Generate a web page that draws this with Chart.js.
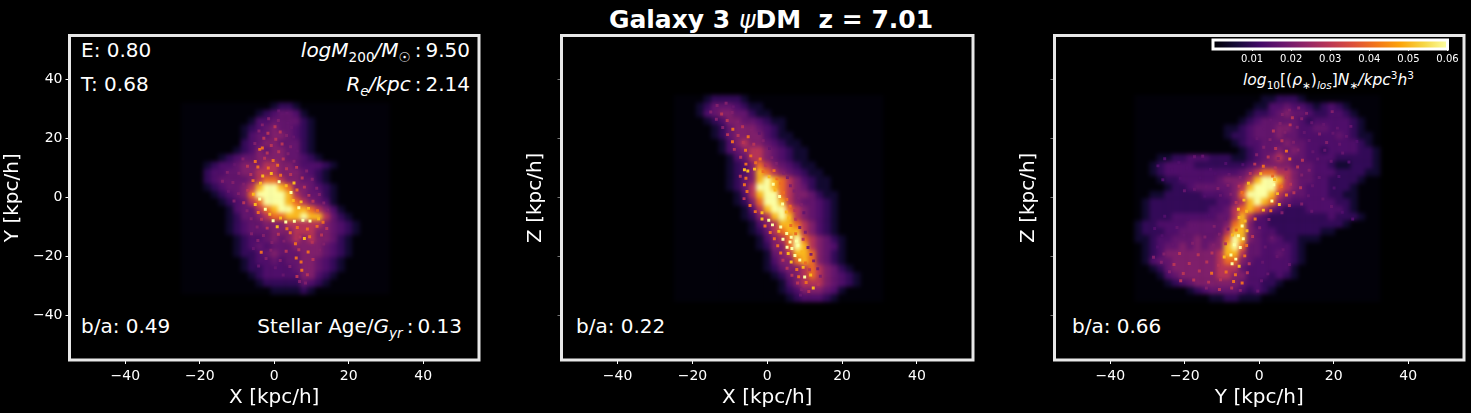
<!DOCTYPE html>
<html>
<head>
<meta charset="utf-8">
<title>Galaxy 3</title>
<script src="https://cdn.jsdelivr.net/npm/chart.js"></script>
<style>
  html, body { margin: 0; background: #000; width: 1471px; height: 413px; overflow: hidden; }
  canvas { position: absolute; }
  .density { filter: blur(2.2px); }
  .grain { filter: blur(0.7px); }
  .note { position: absolute; color: #fff; font: 20px "DejaVu Sans"; white-space: pre; line-height: 24px; }
  .note i { font-style: italic; }
  .note sub, .note sup { font-size: 68%; line-height: 0; }
  .note b { font-weight: normal; margin: 0 4px; }
  #mainTitle { font-weight: bold; font-size: 25px; left: 0; width: 1542px; text-align: center; top: 5px; line-height: 30px; }
  #mainTitle i { font-weight: normal; }
</style>
</head>
<body>
<div class="note" id="mainTitle">Galaxy 3 <i>ψ</i>DM  z = 7.01</div>
<div class="note" style="left:81px;top:38px">E: 0.80</div>
<div class="note" style="left:81px;top:72px">T: 0.68</div>
<div class="note" style="right:1001px;top:38px"><i>logM</i><sub>200</sub><i>/M</i><sub>☉</sub><b>:</b>9.50</div>
<div class="note" style="right:1001px;top:72px"><i>R<sub>e</sub>/kpc</i><b>:</b>2.14</div>
<div class="note" style="left:81px;top:314px">b/a: 0.49</div>
<div class="note" style="right:1009px;top:314px">Stellar Age/<i>G<sub>yr</sub></i><b>:</b>0.13</div>
<div class="note" style="left:576px;top:314px">b/a: 0.22</div>
<div class="note" style="left:1072px;top:314px">b/a: 0.66</div>
<div class="note" style="left:1243px;top:68px;font-size:15.5px"><i>log</i><sub>10</sub>[(<i>ρ</i><sub>∗</sub>)<sub><i>los</i></sub>]<i>N</i><sub>∗</sub><i>/kpc</i><sup>3</sup><i>h</i><sup>3</sup></div>
<script>
// tick positions and labels
const tickValues = [-40, -20, 0, 20, 40];
const colorbarTicks = [0.01, 0.02, 0.03, 0.04, 0.05, 0.06];
const axisLabels = [["X [kpc/h]", "Y [kpc/h]"], ["X [kpc/h]", "Z [kpc/h]"], ["Y [kpc/h]", "Z [kpc/h]"]];

// density for each map digit
const levelValues = [0.0006, 0.005, 0.01, 0.014, 0.017, 0.021, 0.029, 0.04, 0.05, 0.06];

// inferno colour stops
const infernoStops = ["#000004", "#160b39", "#420a68", "#6a176e", "#932667", "#bc3754", "#dd513a", "#f37819", "#fca50a", "#f6d746", "#fcffa4"];

// smooth maps, one digit per cell (2 x 2.5 kpc), rows start at the top of each image
const xyTopRow = 31, xyLeftCol = -24;
const xyRows = [
  "0000000000001221000000000000",
  "0000000000123443100000000000",
  "0000000001334444210000000000",
  "0000000012345443210000000000",
  "0000000013445543210000000000",
  "0000000023455444210000000000",
  "0000000123545544210000000000",
  "0000012344555544321000000000",
  "0001233455566554333210000000",
  "0002334455666555432100000000",
  "0002344445677655442100000000",
  "0001234456899875543210000000",
  "0000123457999986544210000000",
  "0000012346799987654310000000",
  "0000001344678998876531000000",
  "0000001244567788988642100000",
  "0000001234455566666543210000",
  "0000001234445556665543210000",
  "0000000123345456565542100000",
  "0000000123434445555432100000",
  "0000000122345444555432100000",
  "0000000012334344554321000000",
  "0000000012233334554321000000",
  "0000000001233333553210000000",
  "0000000000122222432100000000",
  "0000000000001111210000000000"
];

const xzTopRow = 33.5, xzLeftCol = -24;
const xzRows = [
  "0000122221000000000000000000",
  "0001244432110000000000000000",
  "0001345544211000000000000000",
  "0000123554432110000000000000",
  "0000012455543210000000000000",
  "0000012455553211000000000000",
  "0000001356554321100000000000",
  "0000001345665432110000000000",
  "0000000134665432110000000000",
  "0000000123576543211000000000",
  "0000000123587654321100000000",
  "0000000124589876532110000000",
  "0000000124699876542110000000",
  "0000000013689976554211000000",
  "0000000012579986544321000000",
  "0000000001368997654321000000",
  "0000000001256898654321000000",
  "0000000000135688765321000000",
  "0000000000124678865321000000",
  "0000000000013567976542100000",
  "0000000000012557986543100000",
  "0000000000001456887542100000",
  "0000000000001355787542100000",
  "0000000000001245567654210000",
  "0000000000000124567654321000",
  "0000000000000013566654321000",
  "0000000000000012355543100000",
  "0000000000000001233321000000"
];

const yzTopRow = 33.5, yzLeftCol = -32.5;
const yzRows = [
  "000000000000000001122210000000000",
  "000000000000000011334332123210000",
  "000000000000000122345443223321000",
  "000000000000001234444432333332100",
  "000000000000112344455433443332100",
  "000000000000122344454433333432110",
  "000000000000012334445443333333210",
  "000000000000001234454543323333221",
  "000112233322211234565443333222221",
  "001233332222222345555444332112221",
  "001233333333334567766544333222211",
  "000122333334555689986544332222100",
  "000012234444456899976543332221000",
  "001122222333457999865443332211000",
  "012222222223356898754333333221000",
  "012222222233467876432223333321000",
  "012223333334468643222222223222100",
  "122333344444578533222222222210000",
  "122233444444688543322222211000000",
  "112334445445798543432211100000000",
  "012344545455897443333210000000000",
  "012355555556886443343210000000000",
  "013445555556775433333210000000000",
  "001245555556664333333100000000000",
  "000134555556655333232100000000000",
  "000012345555554332210000000000000",
  "000000012344443232100000000000000",
  "000000000011221110000000000000000"
];

// bright clumps: x, y, map digit
const xyClumps = [
  [1.2,29.4,4],[3.4,28.6,4],[-1.5,26.8,5],[1.1,26.2,5],[3.6,25.3,4],[-3.2,24.7,5],[0.2,24.1,6],[4.6,23.8,4],
  [-4.1,22.6,5],[-1.7,21.9,6],[1.6,22.3,6],[3.3,21.1,5],[-2.8,20.2,6],[0.4,19.8,6],[5.2,20.6,4],[-5.2,18.4,5],
  [-3.9,16.4,7],[-3.2,16.9,7],[-0.8,17.7,6],[2.1,18.2,6],[4.4,17.3,5],[-1.9,15.2,6],[1.2,15.6,6],[3.7,14.9,5],
  [6.1,15.8,4],[-5.1,12.3,7],[-2.6,13.4,6],[-0.3,12.6,7],[2.4,13.1,6],[5.3,12.4,5],[-8.4,13.1,5],[-10.6,11.2,4],
  [-7.2,10.7,6],[-4.4,10.4,7],[-1.6,10.1,7],[0.9,11,7],[3.3,9.8,6],[6,10.3,6],[8.7,9.1,5],[-12.6,8.6,5],
  [-9.5,8.3,5],[-6.3,7.9,6],[-3.1,7.4,8],[-0.8,8.2,8],[1.7,7.6,7],[4.4,7.9,6],[7.5,6.7,6],[10.2,6.3,5],
  [-13.9,5.6,5],[-11.1,5.2,5],[-8.2,4.6,5],[-5.7,5.8,7],[-3.7,4.9,8],[1.3,5.4,9],[3.2,4.1,8],[5.3,5,8],
  [8.1,3.6,6],[11.4,3.2,5],[-12.3,2.2,4],[-9.6,1.4,5],[-7.1,2.5,6],[-5.6,1.2,8],[4.5,1.8,9],[6.1,2.6,7],
  [9.3,0.8,6],[12.1,1.1,5],[-10.8,-1.1,5],[-8.2,-1.7,6],[-5.1,-2.3,8],[-3.9,-0.4,9],[5.1,-0.9,8],[7.2,-1.4,8],
  [10.4,-1.2,6],[13.3,-1.8,5],[-7.3,-4.4,5],[-4.3,-5,7],[-2.4,-3.9,9],[-1.2,-5.6,8],[6.6,-3.4,9],[9.2,-3.6,8],
  [11.6,-4.4,7],[14.3,-4.2,5],[-6.2,-7.1,5],[-3.4,-7.3,6],[-0.3,-7.8,9],[1.7,-6.9,8],[3.1,-8.2,9],[5.4,-8,9],
  [7.7,-7.6,9],[9.6,-7.9,9],[11.9,-7.1,8],[13.1,-8.3,7],[-4.6,-9.9,5],[-1.9,-10.3,6],[0.8,-9.8,8],[3.4,-10.5,7],
  [6.2,-10.1,7],[8.9,-10.6,7],[11.5,-9.7,7],[14.1,-10.4,6],[-6.1,-12.2,5],[-2.9,-12.8,5],[1.1,-12.4,6],[4.3,-11.9,7],
  [6.9,-13.3,6],[8.1,-13.8,8],[9.5,-13.2,7],[12.7,-12.6,6],[-4.4,-14.5,5],[-0.6,-15.2,5],[2.6,-14.7,5],[5.7,-15.6,7],
  [10.2,-15.1,6],[13.3,-15.7,5],[-5.6,-17.2,4],[-3.5,-18.5,7],[-0.9,-17.8,5],[3.2,-18.1,6],[6.6,-17.6,6],[9.1,-18.4,7],
  [12.2,-17.7,5],[-2.2,-20.6,5],[1.6,-21.3,5],[5.9,-20.4,7],[7.2,-21.8,7],[10.4,-20.9,6],[-4.2,-23.1,4],[0.3,-23.7,4],
  [4.2,-23.3,5],[7.4,-24.6,7],[9.3,-23.8,5],[2.4,-26.2,4],[6.1,-26.7,6],[8.9,-26.1,6],[6.8,-28.4,5],[8.4,-28.9,5]
];

const xzClumps = [
  [-13.4,31.3,5],[-11,32,5],[-9.1,30.8,4],[-15.1,29.1,5],[-12.2,28.4,6],[-9.4,28.9,5],[-13.6,26.6,5],[-10.7,26.2,6],
  [-7.9,25.7,5],[-11.9,23.8,5],[-9.2,23.2,7],[-6.6,24.1,6],[-4.3,22.9,5],[-10.6,21.4,6],[-7.8,21.1,6],[-5.1,20.7,7],
  [-2.1,21.9,4],[-9.3,19,7],[-6.4,18.7,6],[-3.6,18.1,6],[-1.1,19.3,5],[-8.8,16.4,6],[-5.8,16.1,7],[-2.8,15.8,6],
  [0.6,16.7,4],[-7.1,13.7,6],[-4.4,14.2,7],[-1.9,13.1,7],[1.2,13.6,5],[-5.7,11.4,7],[-3.1,11.9,7],[-0.4,11,6],
  [2.4,11.6,5],[-6.1,9.5,8],[-5.2,9.1,8],[-3.4,9.7,8],[-1.1,8.9,7],[1.8,9.2,7],[4.4,8.4,5],[-7.2,7.3,6],
  [-5.7,6.6,7],[0.5,7.1,8],[2.6,6.4,7],[5.4,6.9,5],[-6.1,4.4,7],[1.6,4.6,9],[3.6,4.9,7],[6.2,4.1,5],
  [-5.4,2.1,7],[2.1,2.6,8],[4.3,1.7,7],[7.2,2.3,5],[-6.2,-0.3,6],[3.3,0.4,9],[5.2,-0.6,7],[8.3,-0.1,5],
  [-4.6,-2.6,7],[4.1,-2.1,9],[6.1,-2.9,7],[9.1,-2.4,5],[-3.2,-4.7,7],[-1.4,-5.1,8],[5.1,-4.8,8],[7.4,-4.3,6],
  [9.8,-5.1,4],[-1.4,-7.2,8],[0.4,-7.6,9],[5.8,-6.9,8],[7.6,-7.3,6],[-0.6,-9.6,7],[1.4,-9.2,9],[3.6,-9.9,9],
  [6.3,-9.4,7],[8.7,-10.1,5],[0.8,-11.8,7],[3.1,-11.4,8],[5.2,-12.1,9],[6.4,-13.4,9],[7.6,-12.2,7],[10.2,-11.7,5],
  [1.9,-13.9,7],[4.2,-14.1,9],[6.1,-15,9],[7.8,-14.7,9],[9.6,-14.1,6],[2.8,-16.3,7],[5.3,-16.8,9],[6.6,-17.2,9],
  [8.2,-16.1,9],[10.9,-16.9,5],[3.6,-18.7,7],[5.6,-18.9,8],[7.4,-19.6,9],[9.3,-18.4,8],[11.7,-19.2,5],[4.2,-21.2,6],
  [6.4,-21.8,8],[8.7,-21.1,9],[10.2,-22.1,7],[12.4,-21.4,5],[5.3,-23.9,6],[7.9,-24.3,7],[9.6,-23.6,8],[11.3,-24.4,6],
  [13.5,-24.1,5],[6.6,-26.3,6],[8.4,-26.8,7],[10,-26.9,9],[11.6,-26.2,8],[14.2,-26.6,5],[8.1,-28.9,6],[10.4,-28.7,7],
  [12.3,-30.6,8],[13.6,-29.3,6],[9.2,-31.1,5],[11.1,-31.8,6],[8.9,-33,4]
];

const yzClumps = [
  [8.1,29.7,5],[10.6,30.4,5],[12.7,28.6,5],[19.6,29.2,5],[6.2,28.2,5],[8.9,27.1,6],[11.4,26.8,5],[3.1,26.3,4],
  [5.6,25.2,5],[8.3,24.7,6],[10.2,23.9,5],[14.1,25.4,4],[17.3,24.8,4],[21,23.6,4],[24.6,24.2,4],[1.4,23.3,4],
  [3.8,22.6,6],[6.9,22.2,5],[12.1,22.1,4],[16.2,21.6,5],[19.8,21.9,4],[23.4,20.8,4],[-0.6,20.1,4],[2.9,19.7,5],
  [6.1,19.3,6],[9.2,18.8,5],[13.4,19.4,4],[18.1,18.7,5],[21.6,18.1,4],[26.2,19.1,3],[1.2,17.1,5],[4.4,16.7,6],
  [7.3,15.8,7],[10.4,16.2,5],[14.4,15.6,4],[17.6,16.1,4],[22.4,15.2,4],[-0.7,14.6,5],[2.4,13.8,6],[5.1,13.3,5],
  [8.2,13.1,7],[11.6,12.7,6],[15.7,13.1,4],[19.3,12.4,4],[24.1,12.1,3],[-25.4,13.2,3],[-21.6,11.9,3],[-17.4,13.9,4],
  [-15.2,14.1,4],[-27.2,10.8,3],[-23.4,9.4,3],[-19.3,10.1,3],[-13.1,9.6,3],[-9,11.6,3],[-4.4,11.2,3],[-1.2,11.4,6],
  [1.1,10.7,7],[4.3,10.1,6],[7.2,9.7,5],[10.3,10.4,6],[13.4,9.3,5],[-25.9,6.1,3],[-21.2,6.6,3],[-15.9,6.8,3],
  [-11.8,8.1,3],[-8.1,7.9,4],[-5.1,6.9,5],[-2.4,8.2,6],[0.4,8.1,8],[3.6,7.4,7],[4.1,6.2,8],[7.3,6.9,6],
  [11.4,7.7,5],[16.1,6.9,4],[21.4,7.2,3],[-20.1,2.4,4],[-17.4,2.9,4],[-14.2,3.7,4],[-11.1,3.1,5],[-8.4,4.2,5],
  [-5.4,3.9,6],[-2.9,4.9,8],[3.9,4.4,9],[5.9,3.8,7],[8.4,4.6,6],[11.1,3.4,6],[14.3,4.1,4],[20.1,3.3,3],
  [-14.6,0.6,3],[-10.4,0.8,4],[-7.6,1.2,5],[-4.6,1.8,7],[4.9,1.4,8],[7.3,0.9,7],[9.3,1.7,6],[13.2,0.7,4],
  [17.1,-0.4,4],[-6.2,-1.6,6],[-4.1,-0.8,8],[3.4,-1.1,9],[5.4,-2.3,8],[8.1,-2.6,6],[11.4,-2.1,5],[19.4,-3,4],
  [-5.6,-3.9,8],[-3.4,-4.6,8],[1.1,-4.2,8],[3.1,-4.4,7],[6.1,-5.1,5],[14.1,-4.6,4],[22.3,-4.9,3],[-25.4,-6.3,3],
  [-19.2,-7.4,3],[-13.4,-6.1,3],[-9.1,-7.1,4],[-5.4,-6.7,8],[-3.8,-7.9,8],[-1.1,-7.2,7],[2.6,-7.4,5],[25.1,-7.2,3],
  [-28.1,-10.4,3],[-22.1,-10.1,4],[-17.3,-9.4,4],[-12.1,-9.7,5],[-8.4,-10.6,5],[-6.2,-10.9,7],[-4.6,-9.6,9],[-3.3,-11.2,8],
  [0.1,-10.2,5],[-26.1,-12.9,3],[-20.2,-12.7,4],[-14.6,-13.3,5],[-10.7,-12.4,5],[-7.2,-12.6,8],[-5.6,-12.9,9],[-4.3,-13.9,9],
  [-1.8,-13.1,6],[3.4,-13.6,4],[-27.3,-16.7,3],[-23.2,-15.9,4],[-17.9,-15.4,5],[-12.3,-16.1,5],[-9.1,-15.6,6],[-6.7,-15.9,9],
  [-5.1,-16.9,9],[-3.4,-16.2,7],[1.6,-16.7,4],[6.4,-17.6,4],[-28.4,-20.2,5],[-25.6,-19.1,5],[-21.4,-18.9,6],[-16.4,-19.3,6],
  [-12.7,-18.7,6],[-9.4,-20.1,8],[-7.6,-19.4,9],[-6.3,-20.8,9],[-3.9,-19.7,7],[4.8,-19.9,4],[-26.3,-21.9,5],[-22.9,-22.6,6],
  [-18.8,-22.3,6],[-14.1,-21.8,6],[-10.9,-22.9,6],[-7.3,-22.4,9],[-5.4,-23.2,8],[-2.7,-22.4,6],[0.9,-21.9,4],[8.1,-22.6,4],
  [-24.1,-25.1,5],[-20.4,-25.7,6],[-16.1,-24.8,6],[-12.8,-25.6,7],[-8.9,-25.2,7],[-6.4,-26.1,7],[-3.2,-25.4,6],[2.3,-25.8,4],
  [-21.1,-28.1,6],[-17.6,-27.9,6],[-13.6,-28.6,6],[-10.4,-27.8,6],[-6.9,-28.4,7],[-4.6,-28.9,7],[0.6,-28.1,4],[-14.2,-30.6,5],
  [-10.7,-31.1,6],[-7.4,-30.6,6],[-5.1,-31.4,5],[-0.4,-31.6,4]
];

function hexToRgb(hex) {
  return [1, 3, 5].map((i) => parseInt(hex.slice(i, i + 2), 16));
}

// same lookup as the matplotlib colormap, vmax 0.06
function inferno(value) {
  const pos = Math.min(value / 0.06, 1) * (infernoStops.length - 1);
  const i = Math.min(Math.floor(pos), infernoStops.length - 2);
  const a = hexToRgb(infernoStops[i]);
  const b = hexToRgb(infernoStops[i + 1]);
  const c = a.map((v, k) => Math.round(v + (b[k] - v) * (pos - i)));
  return `rgb(${c[0]},${c[1]},${c[2]})`;
}

function gridPoints(rows, left, top) {
  const points = [];
  rows.forEach((row, r) => {
    row.split("").forEach((ch, c) => {
      points.push({ x: left + c * 2, y: top - r * 2.5, v: levelValues[Number(ch)] });
    });
  });
  return points;
}

function clumpPoints(clumps) {
  return clumps.map((c) => ({ x: c[0], y: c[1], v: levelValues[c[2]] }));
}

const frame = {
  id: "frame",
  afterDraw(chart) {
    const { ctx, chartArea: a } = chart;
    ctx.save();
    ctx.strokeStyle = chart.options.frameColor;
    ctx.lineWidth = 3;
    ctx.strokeRect(a.left, a.top, a.right - a.left, a.bottom - a.top);
    ctx.restore();
  },
};

const cbarFill = {
  id: "cbarFill",
  beforeDatasetsDraw(chart) {
    const { ctx, chartArea: a } = chart;
    const g = ctx.createLinearGradient(a.left, 0, a.right, 0);
    infernoStops.forEach((c, i) => g.addColorStop(i / (infernoStops.length - 1), c));
    ctx.fillStyle = g;
    ctx.fillRect(a.left, a.top, a.right - a.left, a.bottom - a.top);
  },
};

function addCanvas(left, top, width, height, cls) {
  const canvas = document.createElement("canvas");
  canvas.width = width;
  canvas.height = height;
  canvas.style.left = left + "px";
  canvas.style.top = top + "px";
  if (cls) canvas.className = cls;
  document.body.appendChild(canvas);
  return canvas;
}

function minusSign(v) {
  return String(v).replace("-", "\u2212");
}

// one blurred layer of square cells
function drawCells(p, points, radius, cls) {
  const width = p.right + p.pad - p.left;
  new Chart(addCanvas(p.left, 0, width, 413, cls), {
    type: "scatter",
    data: {
      datasets: [{
        data: points,
        pointStyle: "rect",
        pointRadius: radius,
        borderWidth: 0,
        backgroundColor: points.map((pt) => inferno(pt.v)),
      }],
    },
    options: {
      responsive: false,
      animation: false,
      events: [],
      layout: { padding: { left: p.boxLeft - p.left, right: p.pad, top: 35.5, bottom: 53 } },
      plugins: { legend: { display: false }, tooltip: { enabled: false } },
      scales: {
        x: { display: false, min: -55, max: 55 },
        y: { display: false, min: -55, max: 55 },
      },
    },
  });
}

function drawPanel(p) {
  const width = p.right + p.pad - p.left;
  drawCells(p, gridPoints(p.rows, p.colStart, p.rowStart), 5.5, "density");
  drawCells(p, clumpPoints(p.clumps), 2.1, "grain");

  const tickColor = p.showY ? "#fff" : "#777";

  // axes layer
  new Chart(addCanvas(p.left, 0, width, 413), {
    type: "scatter",
    data: { datasets: [{ data: [] }] },
    options: {
      responsive: false,
      animation: false,
      events: [],
      frameColor: "#e8e8e8",
      layout: { padding: { right: p.pad, top: 35.5 } },
      plugins: { legend: { display: false }, tooltip: { enabled: false } },
      scales: {
        x: {
          min: -55,
          max: 55,
          afterBuildTicks: (s) => { s.ticks = tickValues.map((value) => ({ value })); },
          afterFit: (s) => { s.height = 53; },
          grid: { drawOnChartArea: false, tickColor: "#fff", tickLength: 4, tickWidth: 1 },
          border: { display: false },
          ticks: { color: "#fff", font: { size: 14 }, padding: 4, maxRotation: 0, autoSkip: false, callback: minusSign },
          title: { display: true, text: p.labels[0], color: "#fff", font: { size: 20 }, padding: { top: 0, bottom: 3 } },
        },
        y: {
          min: -55,
          max: 55,
          afterBuildTicks: (s) => { s.ticks = tickValues.map((value) => ({ value })); },
          afterFit: (s) => { s.width = p.boxLeft - p.left; },
          grid: { drawOnChartArea: false, tickColor, tickLength: 4, tickWidth: 1 },
          border: { display: false },
          ticks: { color: "#fff", font: { size: 14 }, padding: 3, autoSkip: false, callback: (v) => (p.showY ? minusSign(v) : "") },
          title: { display: true, text: p.labels[1], color: "#fff", font: { size: 20 }, padding: { top: 1, bottom: 0 } },
        },
      },
    },
    plugins: [frame],
  });
}

Chart.defaults.font.family = '"DejaVu Sans"';

drawPanel({ left: 0, boxLeft: 69.5, right: 479, pad: 11, rows: xyRows, colStart: xyLeftCol, rowStart: xyTopRow, clumps: xyClumps, labels: axisLabels[0], showY: true });
drawPanel({ left: 523, boxLeft: 561.5, right: 973, pad: 11, rows: xzRows, colStart: xzLeftCol, rowStart: xzTopRow, clumps: xzClumps, labels: axisLabels[1], showY: false });
drawPanel({ left: 1016, boxLeft: 1054.5, right: 1464, pad: 7, rows: yzRows, colStart: yzLeftCol, rowStart: yzTopRow, clumps: yzClumps, labels: axisLabels[2], showY: false });

// colorbar
new Chart(addCanvas(1190, 30, 281, 40), {
  type: "scatter",
  data: { datasets: [{ data: [] }] },
  options: {
    responsive: false,
    animation: false,
    events: [],
    frameColor: "#fff",
    layout: { padding: { left: 23, right: 23.5, top: 10 } },
    plugins: { legend: { display: false }, tooltip: { enabled: false } },
    scales: {
      x: {
        min: 0,
        max: 0.06,
        afterBuildTicks: (s) => { s.ticks = colorbarTicks.map((value) => ({ value })); },
        afterFit: (s) => { s.height = 21; },
        grid: { drawOnChartArea: false, tickColor: "#fff", tickLength: 2, tickWidth: 1 },
        border: { display: false },
        ticks: { color: "#fff", font: { size: 10 }, padding: 2, maxRotation: 0, autoSkip: false, callback: (v) => v.toFixed(2) },
      },
      y: { display: false, min: 0, max: 1 },
    },
  },
  plugins: [cbarFill, frame],
});
</script>
</body>
</html>
